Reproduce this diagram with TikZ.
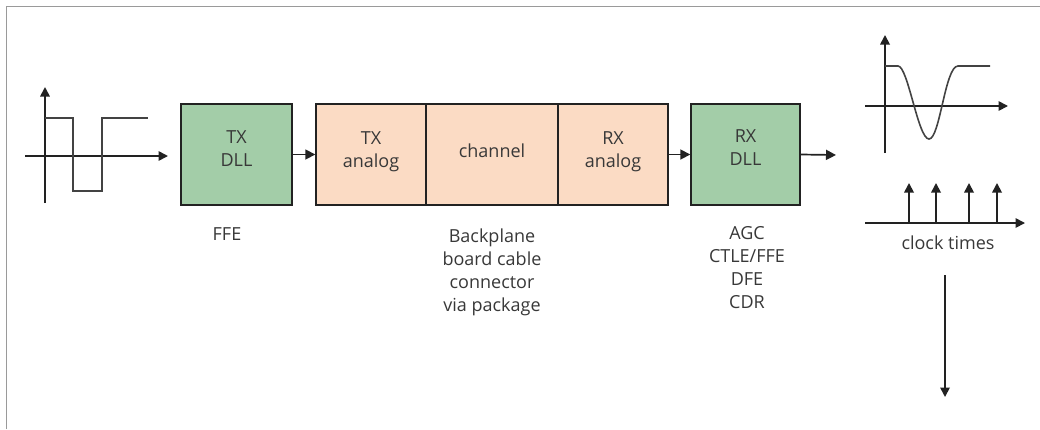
\documentclass[tikz,border=0pt]{standalone}
\usepackage{fontspec}
\setmainfont{Open Sans}
\usetikzlibrary{arrows.meta}
\definecolor{boxgreen}{HTML}{A3CDA8}
\definecolor{boxpeach}{HTML}{FBDBC4}
\definecolor{ink}{HTML}{222222}
\definecolor{txt}{HTML}{383838}
\definecolor{frame}{HTML}{9A9A9A}
\tikzset{
  blk/.style={draw=ink, line width=1.4pt, inner sep=0pt, minimum height=101pt},
  gblk/.style={blk, fill=boxgreen},
  pblk/.style={blk, fill=boxpeach},
  lbl/.style={text=txt, font=\fontsize{18}{23}\selectfont, align=center, inner sep=0pt},
  conn/.style={draw=ink, line width=1.7pt, -{Triangle[length=10pt,width=10pt]}},
  axis/.style={draw=ink, line width=1.7pt, -{Triangle[length=9.5pt,width=9.5pt]}},
  sig/.style={draw=ink!85, line width=1.6pt}
}
\begin{document}
\begin{tikzpicture}[x=1pt,y=-1pt]
\useasboundingbox (0,0) rectangle (1040,429);
% frame
\draw[frame, line width=1.5pt] (6.5,429) -- (6.5,6.5) -- (1040,6.5);

% boxes
\node[gblk, minimum width=111pt] (txdll) at (236.5,154.5) {};
\node[pblk, minimum width=110pt] (txa) at (371,154.5) {};
\node[pblk, minimum width=132pt] (ch) at (492,154.5) {};
\node[pblk, minimum width=110pt] (rxa) at (613,154.5) {};
\node[gblk, minimum width=109pt] (rxdll) at (745.5,154.5) {};

\node[lbl] (txdllt) at ([yshift=6pt]txdll.center) {TX\\DLL};
\node[lbl] (txat) at ([yshift=3pt]txa.center) {TX\\analog};
\node[lbl] (cht) at ([yshift=4pt]ch.center) {channel};
\node[lbl] (rxat) at ([yshift=3pt]rxa.center) {RX\\analog};
\node[lbl] (rxdllt) at ([yshift=7pt]rxdll.center) {RX\\DLL};

% connectors
\coordinate (out) at (836,155);
\draw[conn] (txdll.east) -- (txa.west);
\draw[conn] (rxa.east) -- (rxdll.west);
\draw[conn] (rxdll.east) -- (out);

% labels below
\node[lbl] (ffe) at (227,234) {FFE};
\node[lbl] (chl) at (492,272) {Backplane\\board cable\\connector\\via package};
\node[lbl] (rxl) at (747,268) {AGC\\CTLE/FFE\\DFE\\CDR};

% input square wave
\draw[axis] (25,156) -- (168,156);
\draw[axis] (45,203) -- (45,87);
\draw[sig] (45,118) -- (73,118) -- (73,191) -- (102,191) -- (102,118) -- (148,118);

% output pulse
\draw[axis] (865,106) -- (1008,106);
\draw[axis] (885,153) -- (885,35);
\draw[sig] (885,66) -- (898,66) .. controls (908,66) and (918,139) .. (929,139)
  .. controls (940,139) and (945,66) .. (958,66) -- (990,66);

% clock times
\draw[axis] (865,223) -- (1025,223);
\foreach \cx in {909,936,969,997} \draw[axis] (\cx,223) -- (\cx,183);
\node[lbl] (clk) at (948,243) {clock times};

% down arrow
\coordinate (dtop) at (945,275);
\coordinate (dbot) at (945,397);
\draw[axis] (dtop) -- (dbot);
\end{tikzpicture}
\end{document}
